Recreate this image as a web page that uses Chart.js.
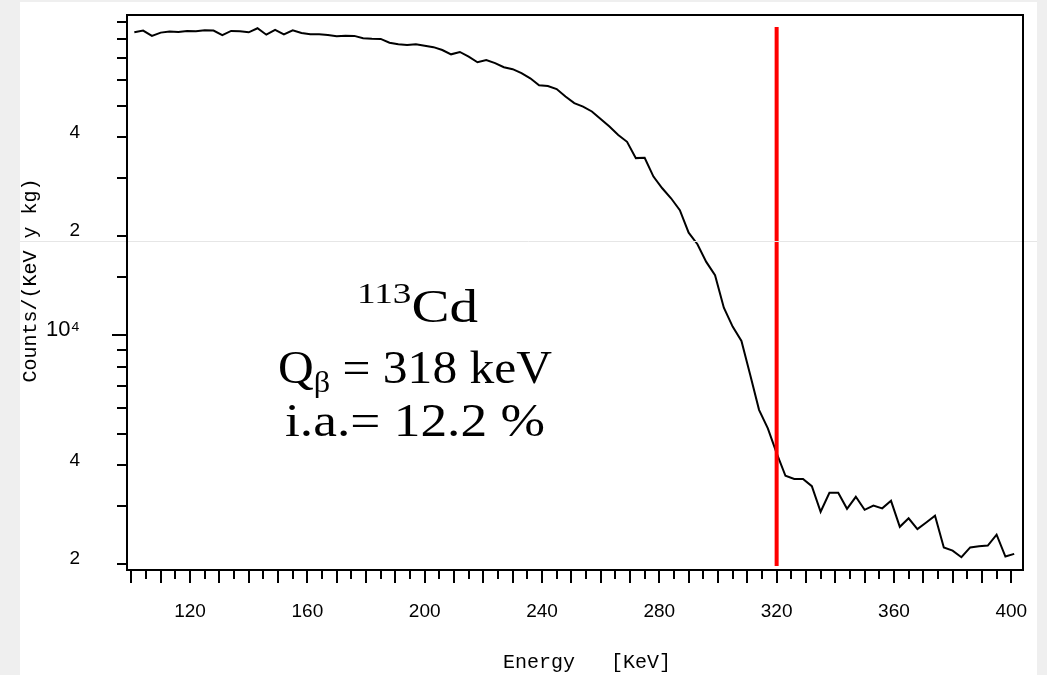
<!DOCTYPE html>
<html><head><meta charset="utf-8">
<script src="https://cdn.jsdelivr.net/npm/chart.js@4.4.1/dist/chart.umd.min.js"></script>
<style>html,body{margin:0;padding:0;background:#efefef;overflow:hidden}canvas{display:block}</style>
</head><body>
<canvas id="c" width="1047" height="675"></canvas>
<script>
const energies = [101,104,107,110,113,116,119,122,125,128,131,134,137,140,143,146,149,152,155,158,
  161,164,167,170,173,176,179,182,185,188,191,194,197,200,203,206,209,212,215,218,
  221,224,227,230,233,236,239,242,245,248,251,254,257,260,263,266,269,272,275,278,
  281,284,287,290,293,296,299,302,305,308,311,314,317,320,323,326,329,332,335,338,
  341,344,347,350,353,356,359,362,365,368,371,374,377,380,383,386,389,392,395,398,401];
const counts = [83700,84700,81600,83500,84100,83900,84500,84300,84900,84700,
  82100,84500,84300,83700,86100,82300,85100,82500,84900,83300,
  82500,82500,82100,81400,81700,81600,80300,80000,79900,77800,
  77000,76600,77000,76200,75400,73900,71700,72900,70500,67800,
  68900,67400,65500,64600,62800,60600,57700,57400,56200,53300,
  50900,49700,48000,45500,43200,40700,38800,34600,34700,30400,
  28000,26100,24000,20500,18900,16700,15200,12100,10600,9590,
  7550,5910,5190,4360,3720,3640,3640,3460,2890,3300,
  3300,2950,3210,2930,3020,2960,3120,2600,2760,2560,
  2680,2810,2250,2200,2100,2250,2270,2280,2460,2110,
  2150];
const qLineX = [320, 320];
const qLineY = [86900, 1975];
const yTickValues = [2000,3000,4000,5000,6000,7000,8000,9000,10000,15000,20000,30000,40000,50000,60000,70000,80000,90000];
const yTickLabels = {2000:'2', 4000:'4', 10000:'10\u2074', 20000:'2', 40000:'4'};
const yMajorTick = [10000];
const xLabelValues = [120,160,200,240,280,320,360,400];
const xTitle = 'Energy   [KeV]';
const yTitle = 'Counts/(KeV y kg)';

const xShortTicks = []; for (let v = 100; v <= 400; v += 5) xShortTicks.push(v);
const xLongTicks = []; for (let v = 100; v <= 400; v += 10) xLongTicks.push(v);

function drawRich(ctx, parts, cx, by, targetW) {
  let w = 0;
  parts.forEach(p => { ctx.font = p.size + 'px "Liberation Serif"'; p.w = ctx.measureText(p.t).width; w += p.w; });
  const sx = targetW / w;
  ctx.save();
  ctx.translate(cx - targetW / 2, by);
  ctx.scale(sx, 1);
  ctx.textAlign = 'left';
  ctx.textBaseline = 'alphabetic';
  let x = 0;
  parts.forEach(p => { ctx.font = p.size + 'px "Liberation Serif"'; ctx.fillText(p.t, x, p.dy); x += p.w; });
  ctx.restore();
}

const decor = {
  id: 'decor',
  beforeDraw(chart) {
    const ctx = chart.ctx;
    ctx.save();
    ctx.fillStyle = '#efefef'; ctx.fillRect(0, 0, chart.width, chart.height);
    ctx.fillStyle = '#ffffff'; ctx.fillRect(20, 2, 1017, 673);
    ctx.restore();
  },
  afterDraw(chart) {
    const ctx = chart.ctx, a = chart.chartArea;
    ctx.save();
    ctx.fillStyle = '#000';
    drawRich(ctx, [{t:'113', size:30, dy:-19}, {t:'Cd', size:46, dy:0}], 417.5, 322, 121);
    drawRich(ctx, [{t:'Q', size:46, dy:0}, {t:'\u03b2', size:30, dy:9}, {t:' = 318 keV', size:46, dy:0}], 415, 383, 274);
    drawRich(ctx, [{t:'i.a.= 12.2 %', size:46, dy:0}], 415, 436, 260);
    ctx.strokeStyle = '#e6e6e6'; ctx.lineWidth = 1;
    ctx.beginPath(); ctx.moveTo(20, 241.5); ctx.lineTo(1037, 241.5); ctx.stroke();
    ctx.strokeStyle = '#000'; ctx.lineWidth = 2;
    ctx.strokeRect(a.left, a.top, a.right - a.left, a.bottom - a.top);
    ctx.restore();
  }
};

const tickFont = {family: '"Liberation Sans", Arial, sans-serif', size: 19};
const bigTickFont = {family: '"Liberation Sans", Arial, sans-serif', size: 22};
const titleFont = {family: '"Liberation Mono", monospace', size: 20};
function noPadV(s) { s.paddingTop = 0; s.paddingBottom = 0; }
function noPadH(s) { s.paddingLeft = 0; s.paddingRight = 0; }

new Chart(document.getElementById('c'), {
  type: 'line',
  data: {
    datasets: [
      { data: qLineX.map((x, i) => ({x, y: qLineY[i]})), borderColor: '#ff0000', borderWidth: 4, pointRadius: 0, order: 0 },
      { data: energies.map((x, i) => ({x, y: counts[i]})), borderColor: '#000000', borderWidth: 2, pointRadius: 0, tension: 0, order: 1 }
    ]
  },
  options: {
    responsive: false, devicePixelRatio: 1, animation: false,
    layout: {padding: {left: 0, right: 24, top: 15, bottom: 0}},
    plugins: {legend: {display: false}, tooltip: {enabled: false}},
    scales: {
      x: {
        type: 'linear', position: 'bottom', weight: 1, min: 98.5, max: 404, bounds: 'data',
        afterBuildTicks: s => { s.ticks = xShortTicks.map(v => ({value: v})); },
        afterFit: s => { s.height = 105; noPadH(s); },
        ticks: {autoSkip: false, maxRotation: 0, padding: 21, font: tickFont, color: '#000',
          callback: v => xLabelValues.includes(v) ? String(v) : ''},
        grid: {drawOnChartArea: false, tickLength: 9, color: '#000', lineWidth: 2},
        border: {display: false},
        title: {display: true, text: '  ' + xTitle, font: titleFont, color: '#000', padding: {top: 0, bottom: 0}}
      },
      x2: {
        type: 'linear', position: 'bottom', weight: 0, min: 98.5, max: 404, bounds: 'data',
        afterBuildTicks: s => { s.ticks = xLongTicks.map(v => ({value: v})); },
        afterFit: s => { s.height = 0; noPadH(s); },
        ticks: {display: false},
        grid: {drawOnChartArea: false, tickLength: 13, color: '#000', lineWidth: 2},
        border: {display: false}
      },
      y: {
        type: 'logarithmic', position: 'left', weight: 1, min: 1920, max: 94500, bounds: 'data',
        afterBuildTicks: s => { s.ticks = yTickValues.map(v => ({value: v})); },
        afterFit: s => { s.width = 127; noPadV(s); },
        ticks: {autoSkip: false, padding: 37, labelOffset: -5, color: '#000',
          font: c => (c.tick && c.tick.value === 10000) ? bigTickFont : tickFont,
          callback: v => yTickLabels[v] !== undefined ? yTickLabels[v] : ''},
        grid: {drawOnChartArea: false, tickLength: 10, color: '#000', lineWidth: 2},
        border: {display: false},
        title: {display: true, text: '  ' + yTitle, font: titleFont, color: '#000', padding: {top: 19, bottom: 0}}
      },
      y2: {
        type: 'logarithmic', position: 'left', weight: 0, min: 1920, max: 94500, bounds: 'data',
        afterBuildTicks: s => { s.ticks = yMajorTick.map(v => ({value: v})); },
        afterFit: s => { s.width = 0; noPadV(s); },
        ticks: {display: false},
        grid: {drawOnChartArea: false, tickLength: 15, color: '#000', lineWidth: 2},
        border: {display: false}
      }
    }
  },
  plugins: [decor]
});
</script>
</body></html>
